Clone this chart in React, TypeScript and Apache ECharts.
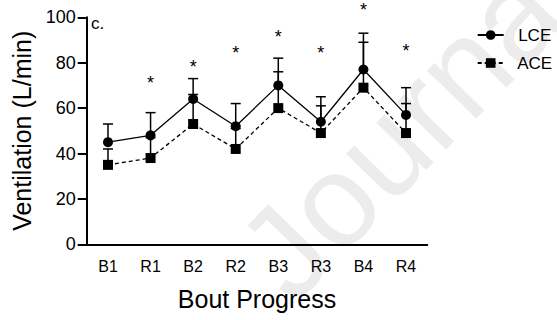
import React, { useEffect, useRef } from "react";
import * as echarts from "echarts";

const categories = ["B1", "R1", "B2", "R2", "B3", "R3", "B4", "R4"];
const lceMean = [45, 48, 64, 52, 70, 54, 77, 57];
const lceUpper = [53, 58, 73, 62, 82, 65, 93, 69];
const aceMean = [35, 38, 53, 42, 60, 49, 69, 49];
const aceUpper = [42, 47, 66, 51, 76, 61, 89, 62];
const starValues = [null, 72, 79, 85, 92, 85, 105, 86];
const yTicks = { min: 0, max: 100, interval: 20 };

const FONT = "'Liberation Sans', Arial, Helvetica, sans-serif";

export default function App() {
  const ref = useRef<HTMLDivElement>(null);
  useEffect(() => {
    if (!ref.current) return;
    const chart = echarts.init(ref.current, null, { renderer: "svg" });

    const errData = (means: number[], uppers: number[]) =>
      means.map((m, i) => [i, m, uppers[i]]);

    const errorRender = (params: any, api: any) => {
      const x = api.value(0);
      const v = api.value(1);
      const u = api.value(2);
      const p0 = api.coord([x, v]);
      const p1 = api.coord([x, u]);
      const st = { stroke: "#000", lineWidth: 1.5 };
      return {
        type: "group",
        children: [
          { type: "line", shape: { x1: p0[0], y1: p0[1], x2: p1[0], y2: p1[1] }, style: st },
          { type: "line", shape: { x1: p1[0] - 5, y1: p1[1], x2: p1[0] + 5, y2: p1[1] }, style: st },
        ],
      };
    };

    const starRender = (params: any, api: any) => {
      const p = api.coord([api.value(0), api.value(1)]);
      return {
        type: "text",
        x: p[0],
        y: Math.max(p[1] + 2, 9.5),
        style: {
          text: "*",
          fill: "#000",
          font: `18px ${FONT}`,
          align: "center",
          verticalAlign: "middle",
        },
      };
    };

    chart.setOption({
      animation: false,
      backgroundColor: "#fff",
      textStyle: { fontFamily: FONT, color: "#000" },
      grid: { left: 86.7, right: 129.7, top: 17.3, bottom: 75.7, containLabel: false },
      legend: {
        orient: "vertical",
        left: 471.7,
        top: 21.5,
        itemWidth: 26,
        itemHeight: 12,
        itemGap: 11,
        data: ["LCE", "ACE"],
        formatter: (n: string) => "  " + n,
        textStyle: { fontSize: 17, color: "#000", fontFamily: FONT },
      },
      xAxis: {
        type: "category",
        data: categories,
        boundaryGap: true,
        axisLine: { lineStyle: { color: "#000", width: 2 } },
        axisTick: { alignWithLabel: true, length: 8, lineStyle: { color: "#000", width: 2 } },
        axisLabel: { fontSize: 16, color: "#000", margin: 14, fontFamily: FONT },
        name: "Bout Progress",
        nameLocation: "middle",
        nameGap: 42.5,
        nameTextStyle: { fontSize: 25, color: "#000", fontFamily: FONT },
      },
      yAxis: {
        type: "value",
        min: yTicks.min,
        max: yTicks.max,
        interval: yTicks.interval,
        splitLine: { show: false },
        axisLine: { show: true, lineStyle: { color: "#000", width: 2 } },
        axisTick: { show: true, length: 9, lineStyle: { color: "#000", width: 2 } },
        axisLabel: { fontSize: 18, color: "#000", margin: 11, fontFamily: FONT },
        name: "Ventilation (L/min)",
        nameLocation: "middle",
        nameGap: 51,
        nameTextStyle: { fontSize: 25, color: "#000", fontFamily: FONT },
      },
      graphic: [
        {
          type: "text",
          x: 410,
          y: 122,
          rotation: 0.8,
          z: -10,
          silent: true,
          style: {
            text: "Journal",
            fill: "#ececec",
            font: `130px ${FONT}`,
            align: "center",
            verticalAlign: "middle",
          },
        },
        {
          type: "text",
          left: 91,
          top: 15,
          style: { text: "c.", fill: "#000", font: `17px ${FONT}` },
        },
      ],
      series: [
        {
          type: "custom",
          name: "aceErr",
          renderItem: errorRender,
          data: errData(aceMean, aceUpper),
          encode: { x: 0, y: [1, 2] },
          z: 1,
          silent: true,
        },
        {
          type: "custom",
          name: "lceErr",
          renderItem: errorRender,
          data: errData(lceMean, lceUpper),
          encode: { x: 0, y: [1, 2] },
          z: 1,
          silent: true,
        },
        {
          type: "line",
          name: "ACE",
          data: aceMean,
          symbol: "rect",
          symbolSize: 10,
          itemStyle: { color: "#000" },
          lineStyle: { color: "#000", width: 1.3, type: [4, 3] },
          z: 3,
        },
        {
          type: "line",
          name: "LCE",
          data: lceMean,
          symbol: "circle",
          symbolSize: 10,
          itemStyle: { color: "#000" },
          lineStyle: { color: "#000", width: 1.3 },
          z: 4,
        },
        {
          type: "custom",
          name: "stars",
          renderItem: starRender,
          clip: false,
          data: starValues
            .map((v, i) => (v == null ? null : [i, v]))
            .filter((d) => d != null),
          encode: { x: 0, y: 1 },
          z: 5,
          silent: true,
        },
      ],
    });
    return () => chart.dispose();
  }, []);
  return (
    <div
      ref={ref}
      style={{ position: "fixed", left: 0, top: 0, width: 557, height: 320 }}
    />
  );
}
